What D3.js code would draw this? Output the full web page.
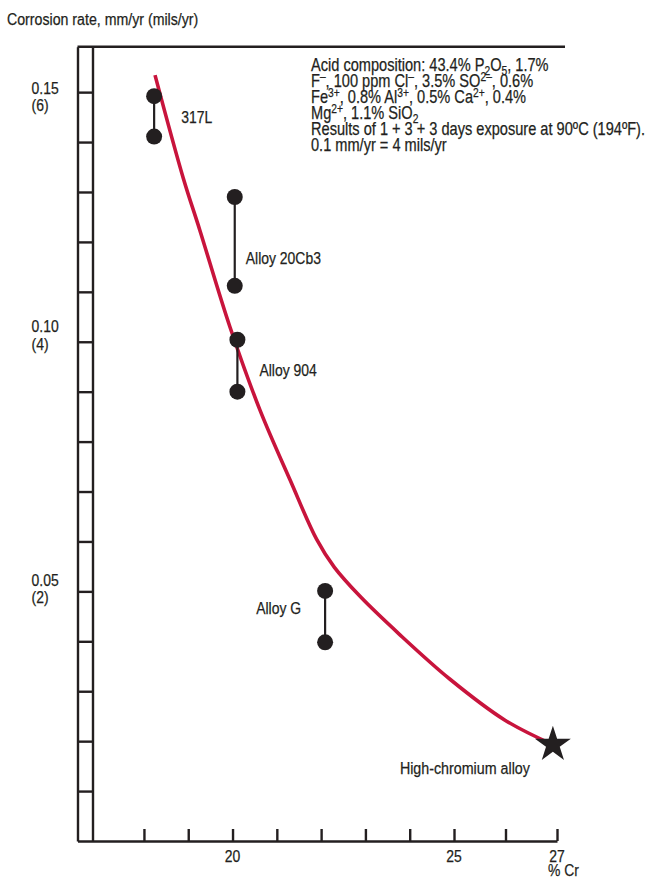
<!DOCTYPE html>
<html>
<head>
<meta charset="utf-8">
<script src="https://cdn.jsdelivr.net/npm/d3@7"></script>
<style>
  html, body { margin: 0; padding: 0; background: #fff; }
  svg { display: block; }
</style>
</head>
<body>
<svg id="chart" width="647" height="877"></svg>
<script>
// ---------------- DATA ----------------
const alloys = ["317L", "Alloy 20Cb3", "Alloy 904", "Alloy G"];
const alloyCr = [18.23, 20.05, 20.11, 22.09];
const rateHigh = [0.1492, 0.1290, 0.1004, 0.0501];
const rateLow = [0.1411, 0.1112, 0.0900, 0.0398];

const starName = "High-chromium alloy";
const starCr = 26.92;
const starRate = 0.0193;

const curveCr = [18.25, 18.89, 19.26, 19.94, 20.62, 21.30, 21.90, 22.30, 22.90, 23.78, 24.91, 25.99, 26.92];
const curveRate = [0.1534, 0.1327, 0.1224, 0.1030, 0.0863, 0.0723, 0.0604, 0.0548, 0.0488, 0.0413, 0.0324, 0.0242, 0.0193];

const xTickValues = [18, 19, 20, 21, 22, 23, 24, 25, 26, 27];
const xTickLabels = ["", "", "20", "", "", "", "", "25", "", "27"];
const yTickValues = [0.01, 0.02, 0.03, 0.04, 0.05, 0.06, 0.07, 0.08, 0.09, 0.10, 0.11, 0.12, 0.13, 0.14, 0.15];
const yLabelValues = [0.15, 0.10, 0.05];
const yLabelMm = ["0.15", "0.10", "0.05"];
const yLabelMils = ["(6)", "(4)", "(2)"];

const yTitle = "Corrosion rate, mm/yr (mils/yr)";
const xTitle = "% Cr";

// annotation lines: [text, kind] segments
const noteLines = [
  [["Acid composition: 43.4% P", "n"], ["2", "sub"], ["O", "n"], ["5", "sub"], [", 1.7%", "n"]],
  [["F", "n"], ["–", "sup"], [", 100 ppm Cl", "n"], ["–", "sup"], [", 3.5% SO", "n"], ["2–", "sup"], [", 0.6%", "n"]],
  [["Fe", "n"], ["3+", "sup"], [", 0.8% Al", "n"], ["3+", "sup"], [", 0.5% Ca", "n"], ["2+", "sup"], [", 0.4%", "n"]],
  [["Mg", "n"], ["2+", "sup"], [", 1.1% SiO", "n"], ["2", "sub"]],
  [["Results of 1 + 3 + 3 days exposure at 90ºC (194ºF).", "n"]],
  [["0.1 mm/yr = 4 mils/yr", "n"]]
];

// ---------------- LAYOUT ----------------
const INK = "#231f20";
const RED = "#c8143c";

function hasFont(name) {
  const c = document.createElement("canvas").getContext("2d");
  const s = "Corrosion rate, mm/yr WWW iii 0123";
  c.font = "40px monospace";
  const a = c.measureText(s).width;
  c.font = `40px "${name}", monospace`;
  const b = c.measureText(s).width;
  return Math.abs(a - b) > 1;
}
const narrow = hasFont("Liberation Sans Narrow");
const FONT = narrow ? '"Liberation Sans Narrow", "Arial Narrow", sans-serif' : '"Liberation Sans", Arial, sans-serif';

const svg = d3.select("#chart");
svg.style("font-family", FONT);

const X0 = 16.5;
const YTOP = 0.1591;
const x = d3.scaleLinear().domain([X0, 25, 27]).range([77.5, 454, 557]);
const y = d3.scaleLinear().domain([0, YTOP]).range([841, 46.7]);
const railRight = 93;
const FS = 17;

// Frame: top line
svg.append("line")
  .attr("x1", x(X0)).attr("x2", 565)
  .attr("y1", y(YTOP)).attr("y2", y(YTOP))
  .attr("stroke", INK).attr("stroke-width", 2.4);

// Y axis (double rail with rungs)
const yAxis = d3.axisRight(y).tickValues(yTickValues).tickSizeInner(railRight - x(X0)).tickSizeOuter(0).tickFormat("");
const gy = svg.append("g").attr("transform", `translate(${x(X0)},0)`).call(yAxis);
gy.selectAll("path.domain").attr("stroke", INK).attr("stroke-width", 2.4);
gy.selectAll(".tick line").attr("stroke", INK).attr("stroke-width", 2.4);

svg.append("line")
  .attr("x1", railRight).attr("x2", railRight)
  .attr("y1", y(YTOP)).attr("y2", y(0))
  .attr("stroke", INK).attr("stroke-width", 2.4);

// X axis
const xAxis = d3.axisBottom(x).tickValues(xTickValues).tickSizeInner(-12).tickSizeOuter(0).tickFormat("");
const gx = svg.append("g").attr("transform", `translate(0,${y(0)})`).call(xAxis);
gx.selectAll("path.domain").attr("stroke", INK).attr("stroke-width", 2.4);
gx.selectAll(".tick line").attr("stroke", INK).attr("stroke-width", 2.4);

// X tick labels
svg.append("g").selectAll("text")
  .data(xTickValues.map((v, i) => ({ v, t: xTickLabels[i] })).filter(d => d.t))
  .join("text")
  .attr("x", d => x(d.v)).attr("y", y(0) + 21)
  .attr("text-anchor", "middle")
  .attr("font-size", FS).attr("fill", INK)
  .text(d => d.t);

svg.append("text")
  .attr("x", x(27) - 9).attr("y", y(0) + 35)
  .attr("font-size", FS).attr("fill", INK)
  .text(xTitle);

// Y labels
const yNudge = [-4, -15, -11];
const yl = svg.append("g").selectAll("g")
  .data(yLabelValues.map((v, i) => ({ v, a: yLabelMm[i], b: yLabelMils[i], n: yNudge[i] })))
  .join("g");
yl.append("text").attr("x", 31.5).attr("y", d => y(d.v) + d.n + 5.5)
  .attr("font-size", FS).attr("fill", INK).text(d => d.a);
yl.append("text").attr("x", 31.5).attr("y", d => y(d.v) + d.n + 23)
  .attr("font-size", FS).attr("fill", INK).text(d => d.b);

// Y title
svg.append("text").attr("x", 7).attr("y", 25)
  .attr("font-size", 17.3).attr("fill", INK).text(yTitle);

// Curve
const curvePts = curveCr.map((c, i) => [c, curveRate[i]]);
svg.append("path")
  .datum(curvePts)
  .attr("d", d3.line().x(d => x(d[0])).y(d => y(d[1])).curve(d3.curveCatmullRom.alpha(0.5)))
  .attr("fill", "none").attr("stroke", RED).attr("stroke-width", 3.6);

// Alloy range bars
const rows = alloys.map((n, i) => ({ n, c: alloyCr[i], hi: rateHigh[i], lo: rateLow[i] }));
const ag = svg.append("g").selectAll("g").data(rows).join("g");
ag.append("line")
  .attr("x1", d => x(d.c)).attr("x2", d => x(d.c))
  .attr("y1", d => y(d.hi)).attr("y2", d => y(d.lo))
  .attr("stroke", INK).attr("stroke-width", 2.2);
ag.append("circle").attr("cx", d => x(d.c)).attr("cy", d => y(d.hi)).attr("r", 8).attr("fill", INK);
ag.append("circle").attr("cx", d => x(d.c)).attr("cy", d => y(d.lo)).attr("r", 8).attr("fill", INK);

// labels for alloys (offsets in px)
const labelOff = [[27, 6.5, "start"], [11, 23, "start"], [22, 10, "start"], [-24, -3, "end"]];
ag.append("text")
  .attr("x", (d, i) => x(d.c) + labelOff[i][0])
  .attr("y", (d, i) => (y(d.hi) + y(d.lo)) / 2 + labelOff[i][1])
  .attr("text-anchor", (d, i) => labelOff[i][2])
  .attr("font-size", FS).attr("fill", INK)
  .text(d => d.n);

// Star
svg.append("path")
  .attr("d", d3.symbol().type(d3.symbolStar).size(400)())
  .attr("transform", `translate(${x(starCr)},${y(starRate)})`)
  .attr("fill", INK);
svg.append("text")
  .attr("x", x(starCr) - 23).attr("y", y(starRate) + 29)
  .attr("text-anchor", "end")
  .attr("font-size", 17.4).attr("fill", INK)
  .text(starName);

// Annotation
const NFS = 17.8;
const note = svg.append("text").attr("font-size", NFS).attr("fill", INK);
noteLines.forEach((segs, li) => {
  let first = true;
  let shift = 0;
  segs.forEach(([t, k]) => {
    const ts = note.append("tspan").text(t);
    if (first) { ts.attr("x", 311).attr("y", 71 + li * 16); first = false; shift = 0; }
    const target = k === "sup" ? -6 : k === "sub" ? 4 : 0;
    if (target !== shift) { ts.attr("dy", target - shift); shift = target; }
    if (k !== "n") ts.attr("font-size", 12.5);
  });
});

// slightly heavier text to match the reference's condensed face
svg.selectAll("text").attr("stroke", INK).attr("stroke-width", 0.25);

if (!narrow) {
  svg.selectAll("text").each(function () {
    const w = this.getComputedTextLength();
    d3.select(this).attr("textLength", w * 0.82).attr("lengthAdjust", "spacingAndGlyphs");
  });
}
</script>
</body>
</html>
